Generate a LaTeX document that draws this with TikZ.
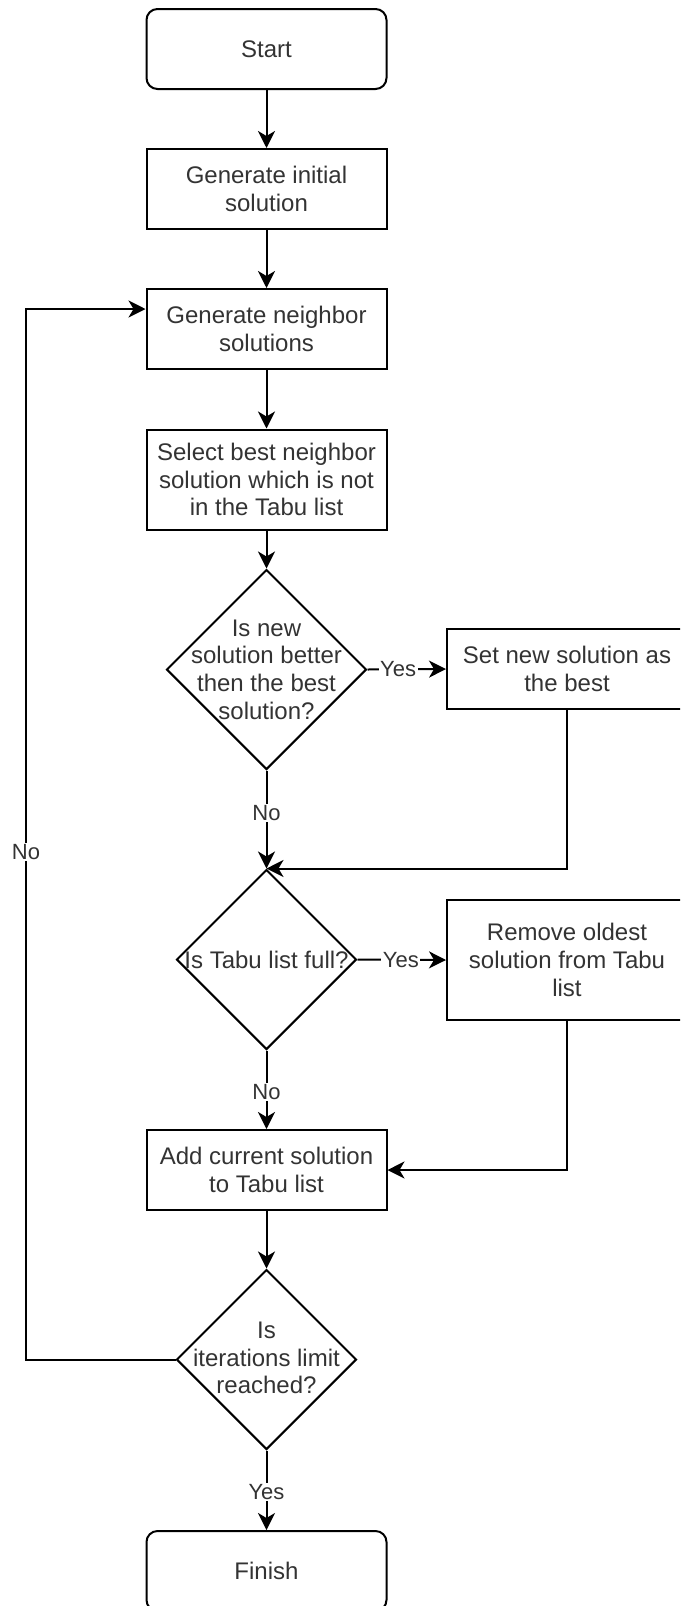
\documentclass[tikz,border=0pt]{standalone}
\usepackage{fontspec}
\setmainfont{Liberation Sans}
\usetikzlibrary{shapes.geometric,arrows.meta}
\definecolor{txtgray}{RGB}{51,51,51}

\begin{document}
\begin{tikzpicture}[x=1pt,y=-1pt,
  line width=2pt,
  every node/.style={font=\fontsize{24}{27.7}\selectfont, text=txtgray},
  proc/.style={draw=black, rectangle, minimum width=240pt, minimum height=80pt,
               align=center, inner sep=0pt},
  term/.style={proc, rounded corners=11pt},
  dec/.style={draw=black, diamond, inner sep=0pt},
  dectext/.style={align=center, inner sep=0pt},
  lbl/.style={fill=white, inner sep=1.5pt, font=\fontsize{22}{26}\selectfont},
  arr/.style={-{Stealth[length=17pt,width=17pt,inset=5pt]}}
]
\useasboundingbox (0,0) rectangle (680,1606);
\clip (0,0) rectangle (680,1606);

% main column
\node[term] (start) at (266.5,49)  {Start};
\node[proc] (init)  at (266.5,189) {Generate initial\\solution};
\node[proc] (nbr)   at (266.5,329) {Generate neighbor\\solutions};
\node[proc, minimum height=100pt] (sel) at (266.5,479.5)
  {Select best neighbor\\solution which is not\\in the Tabu list};

\node[dec, minimum width=200pt, minimum height=200pt] (d1) at (266.5,669.5) {};
\node[dectext] (d1t) at (d1) {Is new\\solution better\\then the best\\solution?};

\node[dec, minimum width=180pt, minimum height=180pt] (d2) at (266.5,959.5) {};
\node[dectext] (d2t) at (d2) {Is Tabu list full?};

\node[proc] (add) at (266.5,1170) {Add current solution\\to Tabu list};

\node[dec, minimum width=180pt, minimum height=180pt] (d3) at (266.5,1359.5) {};
\node[dectext] (d3t) at ([yshift=1.5pt]d3) {Is\\iterations limit\\reached?};

\node[term] (fin) at (266.5,1571) {Finish};

% side column
\node[proc] (best) at (567,669) {Set new solution as\\the best};
\node[proc, minimum height=120pt] (rem) at (567,960) {Remove oldest\\solution from Tabu\\list};

% connectors
\draw[arr] (start) -- (init);
\draw[arr] (init) -- (nbr);
\draw[arr] (nbr) -- (sel);
\draw[arr] (sel) -- (d1);
\draw[arr] (d1.east) -- node[lbl, pos=0.39] (y1) {Yes} (best.west);
\draw[arr] (d1.south) -- node[lbl, pos=0.435] (n1) {No} (d2.north);
\draw[arr] (best.south) |- (d2.north);
\draw[arr] (d2.east) -- node[lbl, pos=0.49] (y2) {Yes} (rem.west);
\draw[arr] (d2.south) -- node[lbl, pos=0.53] (n2) {No} (add.north);
\draw[arr] (rem.south) |- (add.east);
\draw[arr] (add) -- (d3);
\draw[arr] (d3.south) -- node[lbl, pos=0.52] (y3) {Yes} (fin.north);

% loop back to neighbor generation
\coordinate (looptop) at (26,309);
\draw[arr] (d3.west) -| (looptop) -- (nbr.west |- looptop);
\node[lbl] (n3) at (26,852) {No};
\end{tikzpicture}
\end{document}
